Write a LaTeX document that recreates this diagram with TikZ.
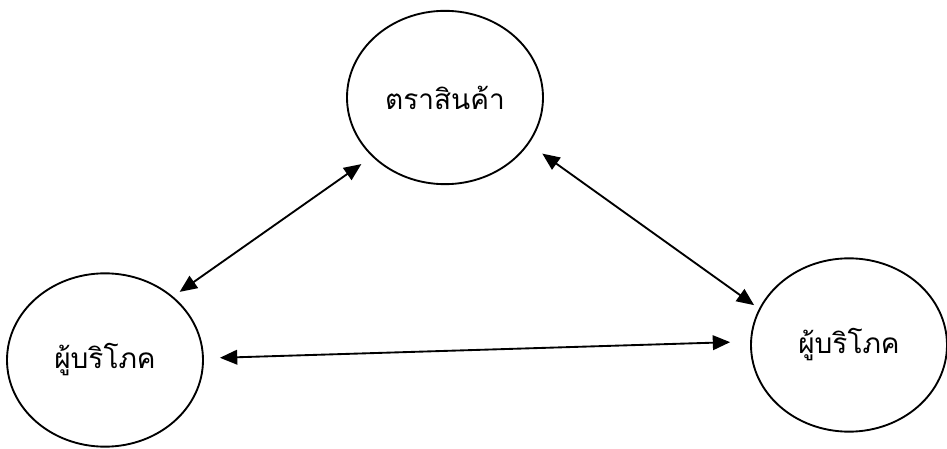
\documentclass[tikz,border=0pt]{standalone}
\usepackage{fontspec}
\newfontfamily\thaifont[Script=Thai]{Loma}
\usepackage{tikz}
\usetikzlibrary{shapes.geometric, arrows.meta}

\begin{document}
\begin{tikzpicture}[x=0.75pt, y=-0.75pt]

\tikzstyle{party} =
[ellipse,
minimum width=147pt,
minimum height=130pt,
inner sep=0pt,
text centered,
draw=black,
line width=1.4pt,
font=\thaifont\fontsize{21}{25}\selectfont]

\tikzstyle{link} =
[{Triangle[length=13pt,width=11pt]}-{Triangle[length=13pt,width=11pt]},
line width=1.4pt]

\useasboundingbox (0,0) rectangle (947,449);

\node (brand) [party] at (445,97.5) {ตราสินค้า};

\node (consumerA) [party] at (105,360) {ผู้บริโภค};

\node (consumerB) [party] at (849,345) {ผู้บริโภค};

\draw[link, shorten <=9.75pt, shorten >=6pt] (brand.219.5) -- (consumerA.43.4);
\draw[link, shorten <=12.4pt, shorten >=4.5pt] (brand.331.8) -- (consumerB.158);
\draw[link, shorten <=12pt, shorten >=15pt] (consumerA.1) -- (consumerB.178.5);

\end{tikzpicture}
\end{document}
